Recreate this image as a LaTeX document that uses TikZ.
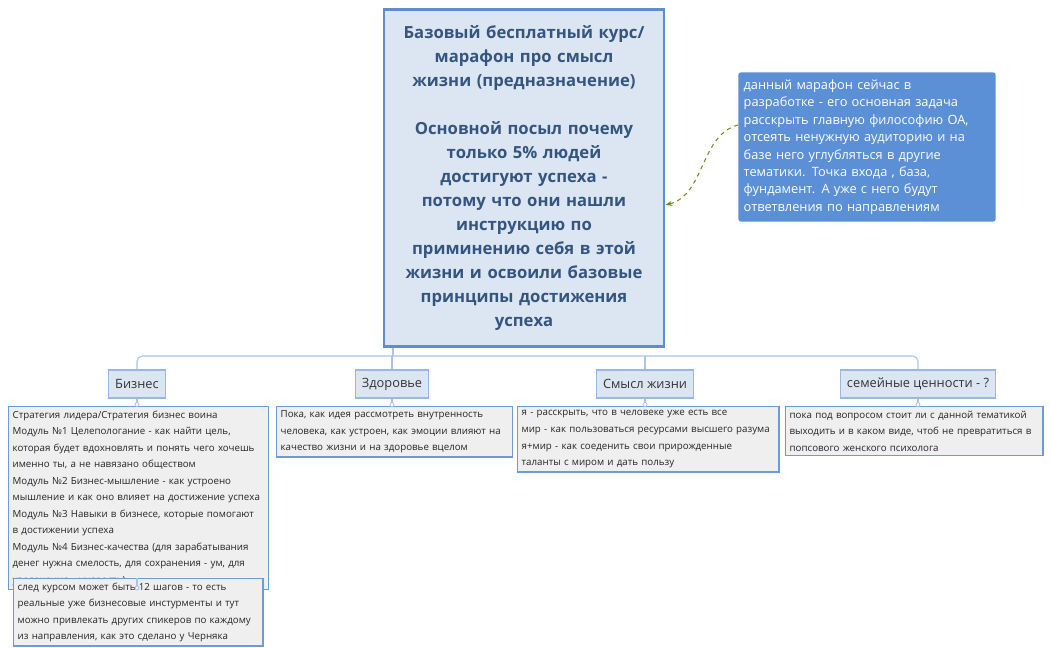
\documentclass[tikz,border=0pt]{standalone}
\usepackage{fontspec}
\setmainfont{Open Sans}
\usetikzlibrary{arrows.meta}
\definecolor{mainfill}{HTML}{DCE6F2}
\definecolor{mainbord}{HTML}{5B8FD0}
\definecolor{maintext}{HTML}{34557F}
\definecolor{notefill}{HTML}{5B8FD6}
\definecolor{detfill}{HTML}{EFEFEF}
\definecolor{detbord}{HTML}{6B9BD8}
\definecolor{linec}{HTML}{A9C4E8}
\definecolor{arrc}{HTML}{6B8E23}
\tikzset{
 x=0.75pt,y=-0.75pt,
 mainbox/.style={draw=mainbord,line width=2.2pt,fill=mainfill,minimum width=210pt,minimum height=253pt,align=center,text width=195pt,text=maintext,font=\fontsize{12.5}{18}\selectfont\bfseries,inner sep=0pt},
 notebox/.style={fill=notefill,rounded corners=2pt,text=white,align=left,text width=185pt,minimum width=193pt,minimum height=112pt,font=\fontsize{9.6}{13.1}\selectfont,inner sep=4pt},
 branch/.style={draw=linec!80!mainbord,line width=1pt,fill=mainfill,font=\fontsize{9.6}{12}\selectfont,text=black!80,minimum height=21pt,inner xsep=5pt},
 detbox/.style={draw=detbord,line width=1pt,fill=detfill,align=left,font=\fontsize{7.3}{12.4}\selectfont,text=black!85,inner sep=3pt,anchor=north west},
 conn/.style={draw=linec,line width=0.8pt,rounded corners=4pt},
 dot/.style={circle,draw=linec,fill=white,inner sep=0pt,minimum size=3pt,line width=0.6pt}
}
\begin{document}
\begin{tikzpicture}
\useasboundingbox (0,0) rectangle (1050,647);
\node[mainbox] (main) at (524,178) {Базовый бесплатный курс/\\марафон про смысл\\жизни (предназначение)\\[18pt]Основной посыл почему\\только 5\% людей\\достигуют успеха -\\потому что они нашли\\инструкцию по\\приминению себя в этой\\жизни и освоили базовые\\принципы достижения\\успеха};
\node[notebox] (note) at (867,147) {данный марафон сейчас в\\разработке - его основная задача\\расскрыть главную философию ОА,\\отсеять ненужную аудиторию и на\\базе него углубляться в другие\\тематики. Точка входа , база,\\фундамент. А уже с него будут\\ответвления по направлениям};
\draw[arrc,dashed,line width=0.8pt,-{Stealth[length=5pt]}] (note.west|-0,125) .. controls (700,135) and (705,195) .. (main.east|-0,205);

\node[branch] (b1) at (137,384) {Бизнес};
\node[branch] (b2) at (392,384) {Здоровье};
\node[branch] (b3) at (645,384) {Смысл жизни};
\node[branch] (b4) at (918,384) {семейные ценности - ?};

\coordinate (top) at (393,348);
\draw[conn] (top) -- (393,356);
\draw[conn] (b1.north) -- (137,356) -- (918,356) -- (b4.north);
\draw[conn] (b2.north) -- (392,356);
\draw[conn] (b3.north) -- (645,356);

\node[detbox,text width=189pt,minimum width=195pt] (d1) at (8,406) {Стратегия лидера/Стратегия бизнес воина\\Модуль №1 Целепологание - как найти цель,\\которая будет вдохновлять и понять чего хочешь\\именно ты, а не навязано обществом\\Модуль №2 Бизнес-мышление - как устроено\\мышление и как оно влияет на достижение успеха\\Модуль №3 Навыки в бизнесе, которые помогают\\в достижении успеха\\Модуль №4 Бизнес-качества (для зарабатывания\\денег нужна смелость, для сохранения - ум, для\\увелечения - мудрость)};
\node[detbox,text width=171pt,minimum width=177pt] (d2) at (276,406) {Пока, как идея рассмотреть внутренность\\человека, как устроен, как эмоции влияют на\\качество жизни и на здоровье вцелом};
\node[detbox,text width=190pt,minimum width=196pt] (d3) at (517,406) {я - расскрыть, что в человеке уже есть все\\мир - как пользоваться ресурсами высшего разума\\я+мир - как соеденить свои прирожденные\\таланты с миром и дать пользу};
\node[detbox,text width=187pt,minimum width=193pt] (d4) at (785,406) {пока под вопросом стоит ли с данной тематикой\\выходить и в каком виде, чтоб не превратиться в\\попсового женского психолога};
\node[detbox,text width=181pt,minimum width=187pt] (d5) at (13,578) {след курсом может быть 12 шагов - то есть\\реальные уже бизнесовые инстурменты и тут\\можно привлекать других спикеров по каждому\\из направления, как это сделано у Черняка};

\draw[conn] (b1.south) -- (137,406) node[dot,pos=0.8]{};
\draw[conn] (b2.south) -- (392,406) node[dot,pos=0.8]{};
\draw[conn] (b3.south) -- (645,406) node[dot,pos=0.8]{};
\draw[conn] (b4.south) -- (918,406) node[dot,pos=0.8]{};
\draw[conn] (d1.south-|137,0) -- (d5.north-|137,0) node[dot,pos=0.2]{};
\end{tikzpicture}
\end{document}
